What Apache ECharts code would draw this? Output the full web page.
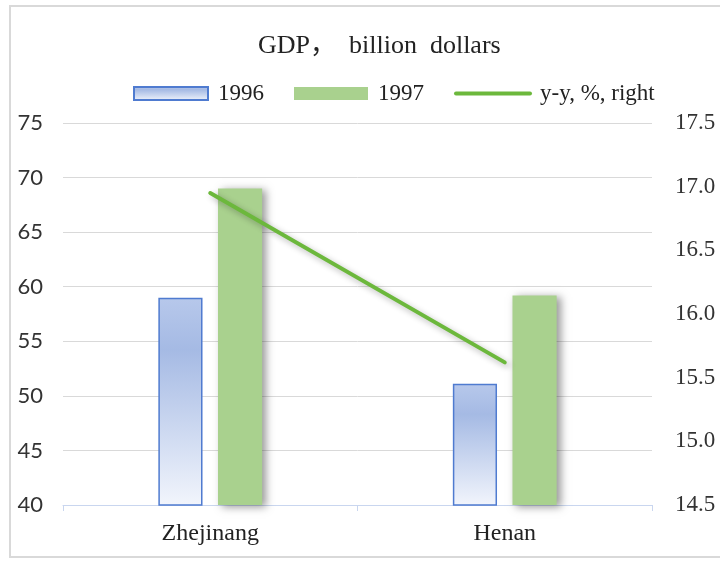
<!DOCTYPE html>
<html>
<head>
<meta charset="utf-8">
<script src="https://cdn.jsdelivr.net/npm/echarts@6/dist/echarts.min.js"></script>
<style>
  html, body { margin: 0; padding: 0; background: #fff; }
  #chart { width: 720px; height: 565px; }
</style>
</head>
<body>
<div id="chart"></div>
<script>
const categories = ['Zhejinang', 'Henan']
const gdp1996 = [59, 51.1]
const gdp1997 = [69, 59.2]
const yoy = [16.95, 15.62]
const leftTicks = { min: 40, max: 75, interval: 5 }
const rightTicks = { min: 14.5, max: 17.5, interval: 0.5 }

const serif = '"Liberation Serif", "Noto Sans CJK SC", serif'
const sans = 'Lato, "Liberation Sans", sans-serif'
const lineGreen = '#6cb83c'

const chart = echarts.init(document.getElementById('chart'))
chart.setOption({
  animation: false,
  title: {
    text: 'GDP，  billion  dollars',
    left: 253,
    top: 28,
    textStyle: { fontFamily: serif, fontSize: 26, fontWeight: 'normal', color: '#222' }
  },
  graphic: [{
    type: 'rect',
    shape: { x: 10, y: 6, width: 800, height: 551 },
    style: { fill: 'none', stroke: '#d9d9d9', lineWidth: 2 }
  }],
  legend: {
    top: 77,
    left: 128,
    itemWidth: 74,
    itemHeight: 13,
    itemGap: 30,
    textStyle: { fontFamily: serif, fontSize: 23, color: '#222', padding: [0, 0, 0, 5] },
    data: [
      { name: '1996', icon: 'rect' },
      { name: '1997', icon: 'rect' },
      {
        name: 'y-y, %, right',
        itemStyle: { color: 'rgba(0,0,0,0)', borderWidth: 0, opacity: 0 },
        lineStyle: { width: 4, color: lineGreen, shadowBlur: 0, shadowOffsetX: 0, shadowOffsetY: 0 }
      }
    ]
  },
  grid: { left: 63, right: 68, top: 123, bottom: 60 },
  xAxis: {
    type: 'category',
    data: categories,
    axisLine: { lineStyle: { color: '#c9d6ef' } },
    axisTick: { show: true, length: 6, lineStyle: { color: '#c9d6ef' } },
    axisLabel: { fontFamily: serif, fontSize: 24, color: '#222', margin: 17 }
  },
  yAxis: [{
    type: 'value',
    min: leftTicks.min, max: leftTicks.max, interval: leftTicks.interval,
    axisLine: { show: false },
    axisTick: { show: false },
    splitLine: { lineStyle: { color: '#d9d9d9', width: 1 } },
    axisLabel: { fontFamily: sans, fontSize: 22, color: '#333', margin: 20 }
  }, {
    type: 'value',
    min: rightTicks.min, max: rightTicks.max, interval: rightTicks.interval,
    axisLine: { show: false },
    axisTick: { show: false },
    splitLine: { show: false },
    axisLabel: {
      fontFamily: serif, fontSize: 23, color: '#333', margin: 23,
      formatter: v => v.toFixed(1)
    }
  }],
  series: [{
    name: '1996',
    type: 'bar',
    data: gdp1996,
    barWidth: '15%',
    barGap: '35%',
    itemStyle: {
      color: new echarts.graphic.LinearGradient(0, 0, 0, 1, [
        { offset: 0, color: '#b7c8eb' },
        { offset: 0.25, color: '#a5bae4' },
        { offset: 1, color: '#f2f5fc' }
      ]),
      borderColor: '#4f7bd0',
      borderWidth: 1.5
    }
  }, {
    name: '1997',
    type: 'bar',
    data: gdp1997,
    barWidth: '15%',
    itemStyle: {
      color: '#a9d18e',
      shadowColor: 'rgba(0,0,0,0.4)',
      shadowBlur: 8,
      shadowOffsetX: 4,
      shadowOffsetY: 2
    }
  }, {
    name: 'y-y, %, right',
    type: 'line',
    yAxisIndex: 1,
    data: yoy,
    symbol: 'none',
    lineStyle: {
      color: lineGreen,
      width: 4,
      cap: 'round',
      shadowColor: 'rgba(0,0,0,0.3)',
      shadowBlur: 6,
      shadowOffsetX: 3,
      shadowOffsetY: 3
    },
    itemStyle: { color: lineGreen },
    z: 5
  }]
})
</script>
</body>
</html>
